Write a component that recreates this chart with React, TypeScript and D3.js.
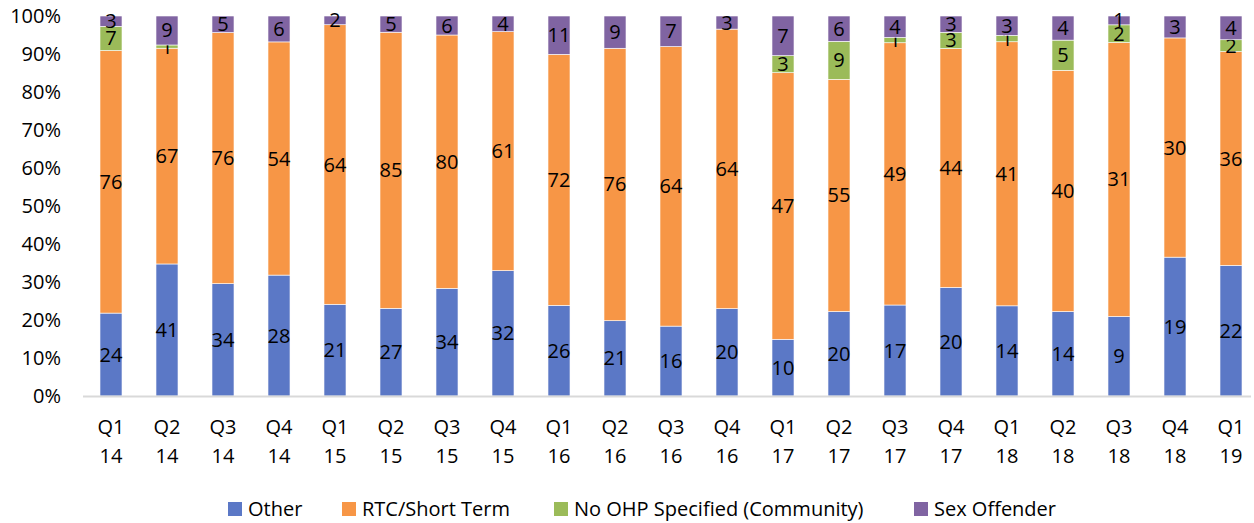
import React, { useEffect, useRef } from "react";
import * as d3 from "d3";

const quarters = ["Q1", "Q2", "Q3", "Q4", "Q1", "Q2", "Q3", "Q4", "Q1", "Q2", "Q3", "Q4", "Q1", "Q2", "Q3", "Q4", "Q1", "Q2", "Q3", "Q4", "Q1"];
const years = ["14", "14", "14", "14", "15", "15", "15", "15", "16", "16", "16", "16", "17", "17", "17", "17", "18", "18", "18", "18", "19"];

const other = [24, 41, 34, 28, 21, 27, 34, 32, 26, 21, 16, 20, 10, 20, 17, 20, 14, 14, 9, 19, 22];
const rtcShortTerm = [76, 67, 76, 54, 64, 85, 80, 61, 72, 76, 64, 64, 47, 55, 49, 44, 41, 40, 31, 30, 36];
const noOhp = [7, 1, 0, 0, 0, 0, 0, 0, 0, 0, 0, 0, 3, 9, 1, 3, 1, 5, 2, 0, 2];
const sexOffender = [3, 9, 5, 6, 2, 5, 6, 4, 11, 9, 7, 3, 7, 6, 4, 3, 3, 4, 1, 3, 4];

const seriesNames = ["Other", "RTC/Short Term", "No OHP Specified (Community)", "Sex Offender"];
const seriesColors = ["#5B78C6", "#F79646", "#9BBB59", "#8064A2"];
const yTicks = [0, 0.1, 0.2, 0.3, 0.4, 0.5, 0.6, 0.7, 0.8, 0.9, 1];

const font = "'Open Sans', Lato, sans-serif";
const fontSize = 20;

const App: React.FC = () => {
  const ref = useRef<SVGSVGElement>(null);

  useEffect(() => {
    if (!ref.current) return;
    const svg = d3.select(ref.current);
    svg.selectAll("*").remove();

    const left = 83;
    const right = 1259;
    const top = 16;
    const bottom = 396;

    const keys = quarters.map((q, i) => `${q} ${years[i]}`);
    const rows = keys.map((k, i) => {
      const vals = [other[i], rtcShortTerm[i], noOhp[i], sexOffender[i]];
      return { key: k, vals, total: d3.sum(vals) };
    });

    const x = d3.scaleBand<string>().domain(keys).range([left, right]).paddingInner(0.607).paddingOuter(0.3035);
    const y = d3.scaleLinear().domain([0, 1]).range([bottom, top]);

    // y axis labels
    svg
      .append("g")
      .selectAll("text")
      .data(yTicks)
      .join("text")
      .attr("x", 61)
      .attr("y", (d) => y(d))
      .attr("dy", "0.35em")
      .attr("text-anchor", "end")
      .attr("font-family", font)
      .attr("font-size", fontSize)
      .attr("fill", "#000")
      .text((d) => d3.format(".0%")(d));

    // bars
    const g = svg.append("g");
    rows.forEach((r) => {
      let acc = 0;
      r.vals.forEach((v, s) => {
        const y0 = acc / r.total;
        acc += v;
        const y1 = acc / r.total;
        if (v === 0) return;
        g.append("rect")
          .attr("x", x(r.key)!)
          .attr("width", x.bandwidth())
          .attr("y", y(y1))
          .attr("height", y(y0) - y(y1))
          .attr("fill", seriesColors[s])
          .attr("stroke", "#fff")
          .attr("stroke-width", 0.6);
        g.append("text")
          .attr("x", x(r.key)! + x.bandwidth() / 2)
          .attr("y", (y(y0) + y(y1)) / 2)
          .attr("dy", "0.35em")
          .attr("text-anchor", "middle")
          .attr("font-family", font)
          .attr("font-size", fontSize)
          .attr("fill", "#000")
          .text(v);
      });
    });

    // x axis line
    svg
      .append("line")
      .attr("x1", left)
      .attr("x2", right - 8)
      .attr("y1", bottom + 0.5)
      .attr("y2", bottom + 0.5)
      .attr("stroke", "#d9d9d9")
      .attr("stroke-width", 2);

    // x labels
    const xl = svg.append("g");
    keys.forEach((k, i) => {
      const cx = x(k)! + x.bandwidth() / 2;
      [quarters[i], years[i]].forEach((t, j) => {
        xl.append("text")
          .attr("x", cx)
          .attr("y", 427 + j * 29)
          .attr("dy", "0.35em")
          .attr("text-anchor", "middle")
          .attr("font-family", font)
          .attr("font-size", fontSize)
          .attr("fill", "#000")
          .text(t);
      });
    });

    // legend
    const legendX = [228, 342, 554, 914];
    const lg = svg.append("g");
    seriesNames.forEach((n, i) => {
      lg.append("rect")
        .attr("x", legendX[i])
        .attr("y", 502)
        .attr("width", 14)
        .attr("height", 14)
        .attr("fill", seriesColors[i]);
      lg.append("text")
        .attr("x", legendX[i] + 20)
        .attr("y", 509)
        .attr("dy", "0.35em")
        .attr("font-family", font)
        .attr("font-size", fontSize)
        .attr("fill", "#000")
        .text(n);
    });
  }, []);

  return (
    <svg
      ref={ref}
      width={1254}
      height={523}
      style={{ position: "absolute", left: 0, top: 0, background: "#fff" }}
    />
  );
};

export default App;
